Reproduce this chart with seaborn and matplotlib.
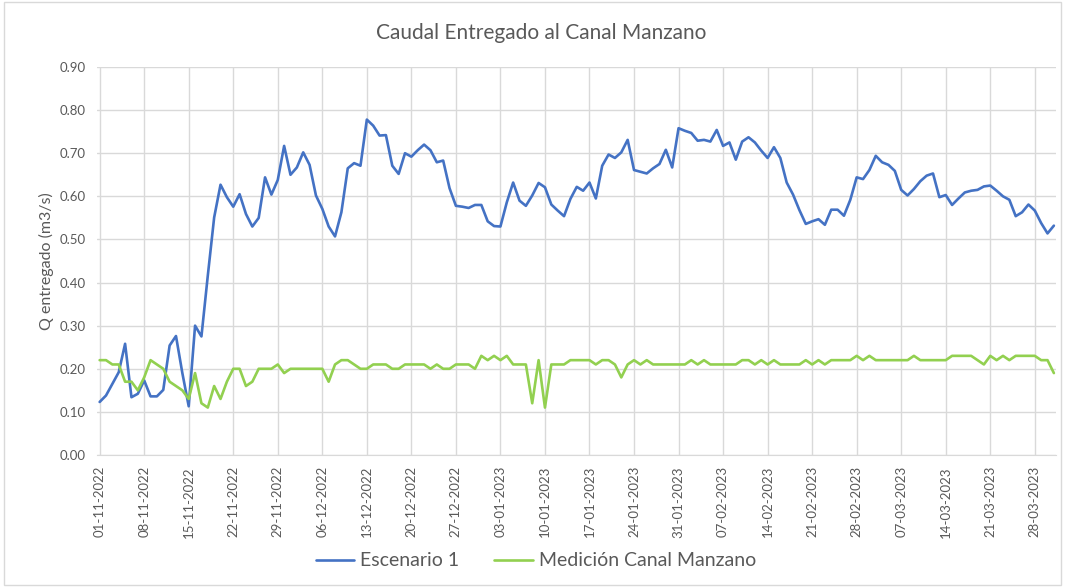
import pandas as pd
import numpy as np
import seaborn as sns
import matplotlib.pyplot as plt
import matplotlib.dates as mdates
from matplotlib.patches import Rectangle

# Daily series 01-11-2022 .. 31-03-2023 (151 days)
start_date = "2022-11-01"
escenario_1 = [
    0.123, 0.138, 0.165, 0.192, 0.258, 0.134, 0.142, 0.173, 0.136, 0.136,
    0.151, 0.254, 0.276, 0.190, 0.113, 0.300, 0.275, 0.416, 0.551, 0.627,
    0.598, 0.576, 0.605, 0.559, 0.530, 0.550, 0.644, 0.604, 0.638, 0.717,
    0.650, 0.667, 0.702, 0.673, 0.602, 0.571, 0.530, 0.507, 0.563, 0.665,
    0.677, 0.671, 0.778, 0.764, 0.741, 0.742, 0.671, 0.652, 0.700, 0.692,
    0.707, 0.720, 0.707, 0.679, 0.683, 0.619, 0.578, 0.576, 0.573, 0.580,
    0.580, 0.542, 0.531, 0.530, 0.586, 0.632, 0.590, 0.578, 0.602, 0.631,
    0.621, 0.581, 0.567, 0.554, 0.594, 0.622, 0.613, 0.632, 0.595, 0.671,
    0.697, 0.689, 0.702, 0.731, 0.661, 0.657, 0.653, 0.665, 0.675, 0.708,
    0.667, 0.758, 0.752, 0.747, 0.729, 0.731, 0.727, 0.754, 0.717, 0.725,
    0.685, 0.727, 0.737, 0.725, 0.706, 0.689, 0.714, 0.689, 0.632, 0.604,
    0.568, 0.536, 0.542, 0.547, 0.534, 0.569, 0.569, 0.555, 0.592, 0.644,
    0.640, 0.661, 0.694, 0.679, 0.673, 0.659, 0.615, 0.602, 0.617, 0.635,
    0.648, 0.653, 0.598, 0.603, 0.580, 0.595, 0.609, 0.613, 0.615, 0.623,
    0.625, 0.613, 0.600, 0.592, 0.554, 0.563, 0.581, 0.567, 0.538, 0.514,
    0.532,
]
medicion = [
    0.22, 0.22, 0.21, 0.21, 0.17, 0.17, 0.15, 0.18, 0.22, 0.21,
    0.20, 0.17, 0.16, 0.15, 0.13, 0.19, 0.12, 0.11, 0.16, 0.13,
    0.17, 0.20, 0.20, 0.16, 0.17, 0.20, 0.20, 0.20, 0.21, 0.19,
    0.20, 0.20, 0.20, 0.20, 0.20, 0.20, 0.17, 0.21, 0.22, 0.22,
    0.21, 0.20, 0.20, 0.21, 0.21, 0.21, 0.20, 0.20, 0.21, 0.21,
    0.21, 0.21, 0.20, 0.21, 0.20, 0.20, 0.21, 0.21, 0.21, 0.20,
    0.23, 0.22, 0.23, 0.22, 0.23, 0.21, 0.21, 0.21, 0.12, 0.22,
    0.11, 0.21, 0.21, 0.21, 0.22, 0.22, 0.22, 0.22, 0.21, 0.22,
    0.22, 0.21, 0.18, 0.21, 0.22, 0.21, 0.22, 0.21, 0.21, 0.21,
    0.21, 0.21, 0.21, 0.22, 0.21, 0.22, 0.21, 0.21, 0.21, 0.21,
    0.21, 0.22, 0.22, 0.21, 0.22, 0.21, 0.22, 0.21, 0.21, 0.21,
    0.21, 0.22, 0.21, 0.22, 0.21, 0.22, 0.22, 0.22, 0.22, 0.23,
    0.22, 0.23, 0.22, 0.22, 0.22, 0.22, 0.22, 0.22, 0.23, 0.22,
    0.22, 0.22, 0.22, 0.22, 0.23, 0.23, 0.23, 0.23, 0.22, 0.21,
    0.23, 0.22, 0.23, 0.22, 0.23, 0.23, 0.23, 0.23, 0.22, 0.22,
    0.19,
]
series_names = ["Escenario 1", "Medición Canal Manzano"]
series_colors = ["#4472C4", "#92D050"]

fechas = pd.date_range(start_date, periods=len(escenario_1), freq="D")
df = pd.DataFrame({"fecha": fechas, series_names[0]: escenario_1, series_names[1]: medicion})
df_long = df.melt(id_vars="fecha", var_name="serie", value_name="caudal")

sns.set_style("white")
plt.rcParams["font.family"] = ["Lato", "DejaVu Sans"]

grey = "#595959"
fig = plt.figure(figsize=(10.65, 5.87), dpi=100)
ax = fig.add_axes([97 / 1065, 1 - 455 / 587, (1056 - 97) / 1065, (455 - 67) / 587])

sns.lineplot(data=df_long, x="fecha", y="caudal", hue="serie", palette=series_colors,
             linewidth=1.9, ax=ax, legend=True)

# axes
ax.set_ylim(0, 0.9)
ax.set_yticks(np.arange(0, 0.91, 0.1))
ax.yaxis.set_major_formatter(plt.FuncFormatter(lambda v, p: f"{v:.2f}"))
ax.set_xlim(fechas[0] - pd.Timedelta(hours=10), fechas[-1] + pd.Timedelta(hours=8))
ax.set_xticks(pd.date_range(start_date, fechas[-1], freq="7D"))
ax.xaxis.set_major_formatter(mdates.DateFormatter("%d-%m-%Y"))
ax.tick_params(axis="x", rotation=90, labelsize=9.5, colors=grey, length=0, pad=8)
ax.tick_params(axis="y", labelsize=9.5, colors=grey, length=0, pad=8)
ax.grid(True, color="#D9D9D9", linewidth=1)
for side in ["top", "right", "left"]:
    ax.spines[side].set_visible(False)
ax.spines["bottom"].set_color("#D9D9D9")
ax.set_xlabel("")
ax.set_ylabel("Q entregado (m3/s)", fontsize=11.5, color=grey, labelpad=4)

# title centred on the whole chart, as in Excel
fig.text(541 / 1065, 1 - 33 / 587, "Caudal Entregado al Canal Manzano", fontsize=15,
         color=grey, ha="center", va="center")

# legend at the bottom
handles, labels = ax.get_legend_handles_labels()
ax.get_legend().remove()
fig.legend(handles, labels, loc="center", bbox_to_anchor=(536 / 1065, 1 - 561 / 587), ncol=2,
           frameon=False, fontsize=14, labelcolor=grey, handlelength=2.0,
           handletextpad=0.3, columnspacing=1.8)

# chart border
fig.patches.append(Rectangle((0.004, 0.004), 0.992, 0.992, transform=fig.transFigure,
                             fill=False, edgecolor="#D9D9D9", linewidth=1))

fig.savefig("out.png", dpi=100)
